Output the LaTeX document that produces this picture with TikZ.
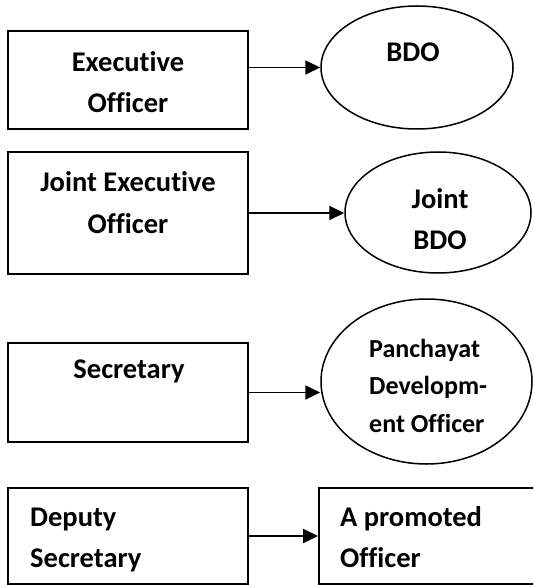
\documentclass[tikz,border=0pt]{standalone}
\usepackage{fontspec}
\setmainfont{Carlito}[Ligatures={NoCommon}]
\usetikzlibrary{arrows.meta,shapes.geometric}
\begin{document}
\begin{tikzpicture}[x=1pt,y=-1pt,
  frame/.style={draw, line width=1.9pt, inner sep=0pt},
  oval/.style={draw, ellipse, line width=1.5pt, inner sep=0pt},
  lbl/.style={inner sep=0pt, font=\fontsize{28.5}{41}\selectfont\bfseries},
  small/.style={inner sep=0pt, font=\fontsize{26}{37.5}\selectfont\bfseries},
  conn/.style={line width=1.9pt, -{Triangle[length=15pt,width=14pt]}}]
\useasboundingbox (0,0) rectangle (533,585);
\clip (0,0) rectangle (533,585);

% left-hand posts
\node[frame, minimum width=240pt, minimum height=98pt]  (eo)  at (128,80)    {};
\node[frame, minimum width=240pt, minimum height=122pt] (jeo) at (128,213)   {};
\node[frame, minimum width=240pt, minimum height=99pt]  (sec) at (128,392.5) {};
\node[frame, minimum width=240pt, minimum height=96pt]  (ds)  at (128,536)   {};

% right-hand posts
\node[oval, minimum width=192pt, minimum height=123pt] (bdo)  at (417,67.5)  {};
\node[oval, minimum width=186pt, minimum height=121pt] (jbdo) at (438,212.5) {};
\node[oval, minimum width=211pt, minimum height=165pt] (pdo)  at (426.5,381.5) {};
% this box runs on past the right margin
\node[frame, minimum width=300pt, minimum height=96pt] (po)   at (469,536)   {};

% labels (base anchor = baseline of the last line)
\node[lbl, align=center, anchor=base] (eot)  at (128,113) {Executive\\Officer};
\node[lbl, align=center, anchor=base] (jeot) at (128,233) {Joint Executive\\Officer};
\node[lbl, align=center, anchor=base] (sect) at (129,378) {Secretary};
\node[lbl, align=left, anchor=base west] (dst) at (30,567) {Deputy\\Secretary};
\node[lbl, align=center, anchor=base] (bdot)  at (413,62)  {BDO};
\node[lbl, align=center, anchor=base] (jbdot) at (440,249) {Joint\\BDO};
\node[small, align=left, anchor=base west] (pdot) at (369,432) {Panchayat\\Developm-\\ent Officer};
\node[lbl, align=left, anchor=base west] (pot) at (340,567) {A promoted\\Officer};

% connectors
\draw[conn] (eo.east |- bdo.west) -- (bdo.west);
\draw[conn] (jeo.east) -- (jbdo.west |- jeo.east);
\draw[conn] (sec.east) -- (pdo.west |- sec.east);
\draw[conn] (ds.east) -- (po.west |- ds.east);
\end{tikzpicture}
\end{document}
